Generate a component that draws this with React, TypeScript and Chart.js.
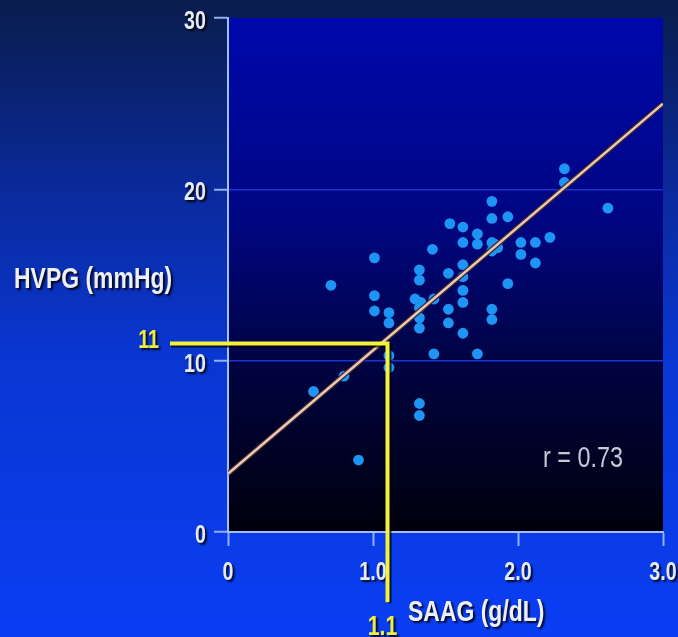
import React, { useEffect, useRef } from 'react';
import { Chart, registerables } from 'chart.js';

Chart.register(...registerables);

// ---- data ----
const SAAG = [
  2.32, 2.32, 2.62, 1.82, 1.82, 1.93, 1.53, 1.62, 1.62, 1.72, 1.72, 1.82, 1.86, 1.82,
  2.02, 2.02, 2.12, 2.12, 2.22, 1.41, 1.01, 0.71, 1.32, 1.32, 1.52, 1.62, 1.62, 1.93,
  1.01, 1.01, 1.11, 1.11, 1.29, 1.33, 1.32, 1.32, 1.42, 1.52, 1.52, 1.62, 1.62, 1.62,
  1.82, 1.82, 1.42, 1.72, 0.80, 0.59, 1.32, 1.32, 0.90, 1.11, 1.11, 1.32, 1.84,
];
const HVPG = [
  21.2, 20.4, 18.9, 19.3, 18.3, 18.4, 18.0, 17.8, 16.9, 17.4, 16.8, 16.9, 16.6, 16.4,
  16.9, 16.2, 16.9, 15.7, 17.2, 16.5, 16.0, 14.4, 15.3, 14.7, 15.1, 15.6, 14.9, 14.5,
  13.8, 12.9, 12.8, 12.2, 13.6, 13.4, 12.5, 11.9, 13.6, 13.0, 12.2, 14.1, 13.4, 11.6,
  13.0, 12.4, 10.4, 10.4, 9.1, 8.2, 7.5, 6.8, 4.2, 10.3, 9.6, 13.1, 16.8,
];
const FIT_X = [0, 3.0];
const FIT_Y = [3.4, 25.0];

const X_TICKS = [0, 1, 2, 3];
const X_TICK_LABELS = ['0', '1.0', '2.0', '3.0'];
const Y_TICKS = [0, 10, 20, 30];
const Y_TICK_LABELS = ['0', '10', '20', '30'];
const GRID_VALUES = [10, 20];

const REF_X = 1.1;
const REF_Y = 11;
const REF_X_LABEL = '1.1';
const REF_Y_LABEL = '11';
const REF_LINE_X_START = -0.4;
const REF_LINE_Y_END = -4.1;
const R_LABEL = 'r = 0.73';
const X_TITLE = 'SAAG (g/dL)';
const Y_TITLE = 'HVPG (mmHg)';

const FONT = "'Liberation Sans', Arial, sans-serif";
const SQUEEZE = 0.82;
const STRETCH = 1.06;
const TICK_SHIFT = 4;
const nativeFillText = CanvasRenderingContext2D.prototype.fillText;

function installSqueeze(ctx: any) {
  ctx.fillText = function (text: string, x: number, y: number) {
    this.save();
    this.translate(x, y + TICK_SHIFT);
    this.scale(SQUEEZE, STRETCH);
    nativeFillText.call(this, text, 0, 0);
    this.restore();
  };
}
function removeSqueeze(ctx: any) {
  delete ctx.fillText;
}

function shadowText(ctx: CanvasRenderingContext2D, text: string, x: number, y: number, font: string, color: string, align: CanvasTextAlign, shadow = true) {
  ctx.save();
  ctx.font = font;
  ctx.textAlign = align;
  ctx.textBaseline = 'alphabetic';
  if (shadow) {
    ctx.shadowColor = 'rgba(0,0,0,0.85)';
    ctx.shadowOffsetX = 2;
    ctx.shadowOffsetY = 2;
    ctx.shadowBlur = 2;
  }
  ctx.fillStyle = color;
  ctx.translate(x, y);
  ctx.scale(SQUEEZE, STRETCH);
  nativeFillText.call(ctx, text, 0, 0);
  ctx.restore();
}

const decorPlugin = {
  id: 'decor',
  beforeDraw(chart: any) {
    const { ctx, width, height, chartArea } = chart;
    ctx.save();
    const bg = ctx.createLinearGradient(0, 0, 0, height);
    bg.addColorStop(0, '#0a1c4c');
    bg.addColorStop(0.3, '#0a2a9c');
    bg.addColorStop(0.55, '#0a36d0');
    bg.addColorStop(1, '#0a3ef4');
    ctx.fillStyle = bg;
    ctx.fillRect(0, 0, width, height);
    const pg = ctx.createLinearGradient(0, chartArea.top, 0, chartArea.bottom);
    pg.addColorStop(0, '#0008ac');
    pg.addColorStop(0.4, '#000680');
    pg.addColorStop(0.7, '#00033c');
    pg.addColorStop(1, '#00000c');
    ctx.fillStyle = pg;
    ctx.fillRect(chartArea.left, chartArea.top, chartArea.right - chartArea.left, chartArea.bottom - chartArea.top);
    ctx.restore();
  },
  afterDatasetsDraw(chart: any) {
    const ctx = chart.ctx;
    ctx.shadowColor = 'rgba(0,0,0,0.85)';
    ctx.shadowOffsetX = 2;
    ctx.shadowOffsetY = 2;
    ctx.shadowBlur = 2;
    installSqueeze(ctx);
  },
  afterDraw(chart: any) {
    const ctx = chart.ctx;
    removeSqueeze(ctx);
    ctx.shadowColor = 'rgba(0,0,0,0)';
    ctx.shadowOffsetX = 0;
    ctx.shadowOffsetY = 0;
    ctx.shadowBlur = 0;
    const xs = chart.scales.x;
    const ys = chart.scales.y;
    const px = xs.getPixelForValue(REF_X);
    const py = ys.getPixelForValue(REF_Y);
    const x0 = xs.getPixelForValue(REF_LINE_X_START);
    const y1 = ys.getPixelForValue(REF_LINE_Y_END);

    ctx.save();
    ctx.lineCap = 'butt';
    ctx.strokeStyle = 'rgba(0,0,0,0.75)';
    ctx.lineWidth = 4;
    ctx.beginPath();
    ctx.moveTo(x0 + 1, py + 2);
    ctx.lineTo(px + 2, py + 2);
    ctx.lineTo(px + 2, y1 + 1);
    ctx.stroke();
    ctx.strokeStyle = '#f2f23c';
    ctx.lineWidth = 4;
    ctx.beginPath();
    ctx.moveTo(x0, py);
    ctx.lineTo(px, py);
    ctx.lineTo(px, y1);
    ctx.stroke();
    ctx.restore();

    shadowText(ctx, REF_Y_LABEL, x0 - 11, py + 4, `bold 24px ${FONT}`, '#eeee40', 'right');
    shadowText(ctx, REF_X_LABEL, px - 5, chart.height - 2, `bold 26px ${FONT}`, '#eeee40', 'center');
    shadowText(ctx, Y_TITLE, 14, 288, `bold 28px ${FONT}`, '#eef0f8', 'left');
    shadowText(ctx, X_TITLE, 408, 621, `bold 28px ${FONT}`, '#eef0f8', 'left');
    shadowText(ctx, R_LABEL, 543, 467, `28.5px ${FONT}`, '#c4cad8', 'left', false);
  },
};

export default function App() {
  const ref = useRef<HTMLCanvasElement | null>(null);

  useEffect(() => {
    document.body.style.margin = '0';
    const canvas = ref.current;
    if (!canvas) return;
    const points = SAAG.map((x, i) => ({ x, y: HVPG[i] }));
    const fit = FIT_X.map((x, i) => ({ x, y: FIT_Y[i] }));
    const tickFont = { family: FONT, size: 24, weight: 'bold' as const };

    const chart = new Chart(canvas, {
      type: 'scatter',
      data: {
        datasets: [
          {
            type: 'line',
            data: fit,
            borderColor: '#3a2630',
            borderWidth: 5,
            pointRadius: 0,
            order: 1,
          } as any,
          {
            type: 'line',
            data: fit,
            borderColor: '#ecc8b2',
            borderWidth: 2.5,
            pointRadius: 0,
            order: 0,
          } as any,
          {
            data: points,
            backgroundColor: '#1e94f4',
            borderWidth: 0,
            pointRadius: 5.4,
            pointHoverRadius: 5.4,
            order: 2,
          },
        ],
      },
      options: {
        responsive: false,
        animation: false,
        devicePixelRatio: 1,
        layout: { padding: { left: 0, top: 18, right: 15, bottom: 0 } },
        plugins: { legend: { display: false }, tooltip: { enabled: false } },
        scales: {
          x: {
            type: 'linear',
            min: 0,
            max: 3,
            afterBuildTicks: (s: any) => { s.ticks = X_TICKS.map((v) => ({ value: v })); },
            afterFit: (s: any) => { s.height = 105; s.paddingLeft = 0; s.paddingRight = 0; },
            ticks: {
              callback: (v: any) => X_TICK_LABELS[X_TICKS.indexOf(Number(v))],
              color: '#e6eaf6',
              font: tickFont,
              padding: 9,
              maxRotation: 0,
              autoSkip: false,
              z: 1,
            },
            grid: {
              drawOnChartArea: false,
              drawTicks: true,
              tickLength: 14,
              tickColor: '#90b0f0',
              tickWidth: 2,
            },
            border: { display: true, color: '#a0c0ff', width: 2 },
          },
          y: {
            type: 'linear',
            min: 0,
            max: 30,
            afterBuildTicks: (s: any) => { s.ticks = Y_TICKS.map((v) => ({ value: v })); },
            afterFit: (s: any) => { s.width = 228; s.paddingTop = 0; s.paddingBottom = 0; },
            ticks: {
              callback: (v: any) => Y_TICK_LABELS[Y_TICKS.indexOf(Number(v))],
              color: '#e6eaf6',
              font: tickFont,
              padding: 8,
              autoSkip: false,
              z: 1,
            },
            grid: {
              color: (c: any) => (c.tick && GRID_VALUES.includes(c.tick.value) ? '#1a34d0' : 'rgba(0,0,0,0)'),
              lineWidth: 1.5,
              drawTicks: true,
              tickLength: 14,
              tickColor: '#90b0f0',
              tickWidth: 2,
            },
            border: { display: true, color: '#a0c0ff', width: 2 },
          },
        },
      },
      plugins: [decorPlugin],
    } as any);

    return () => chart.destroy();
  }, []);

  return (
    <div style={{ position: 'absolute', left: 0, top: 0, width: 678, height: 637 }}>
      <canvas ref={ref} width={678} height={637} style={{ display: 'block', width: 678, height: 637 }} />
    </div>
  );
}
